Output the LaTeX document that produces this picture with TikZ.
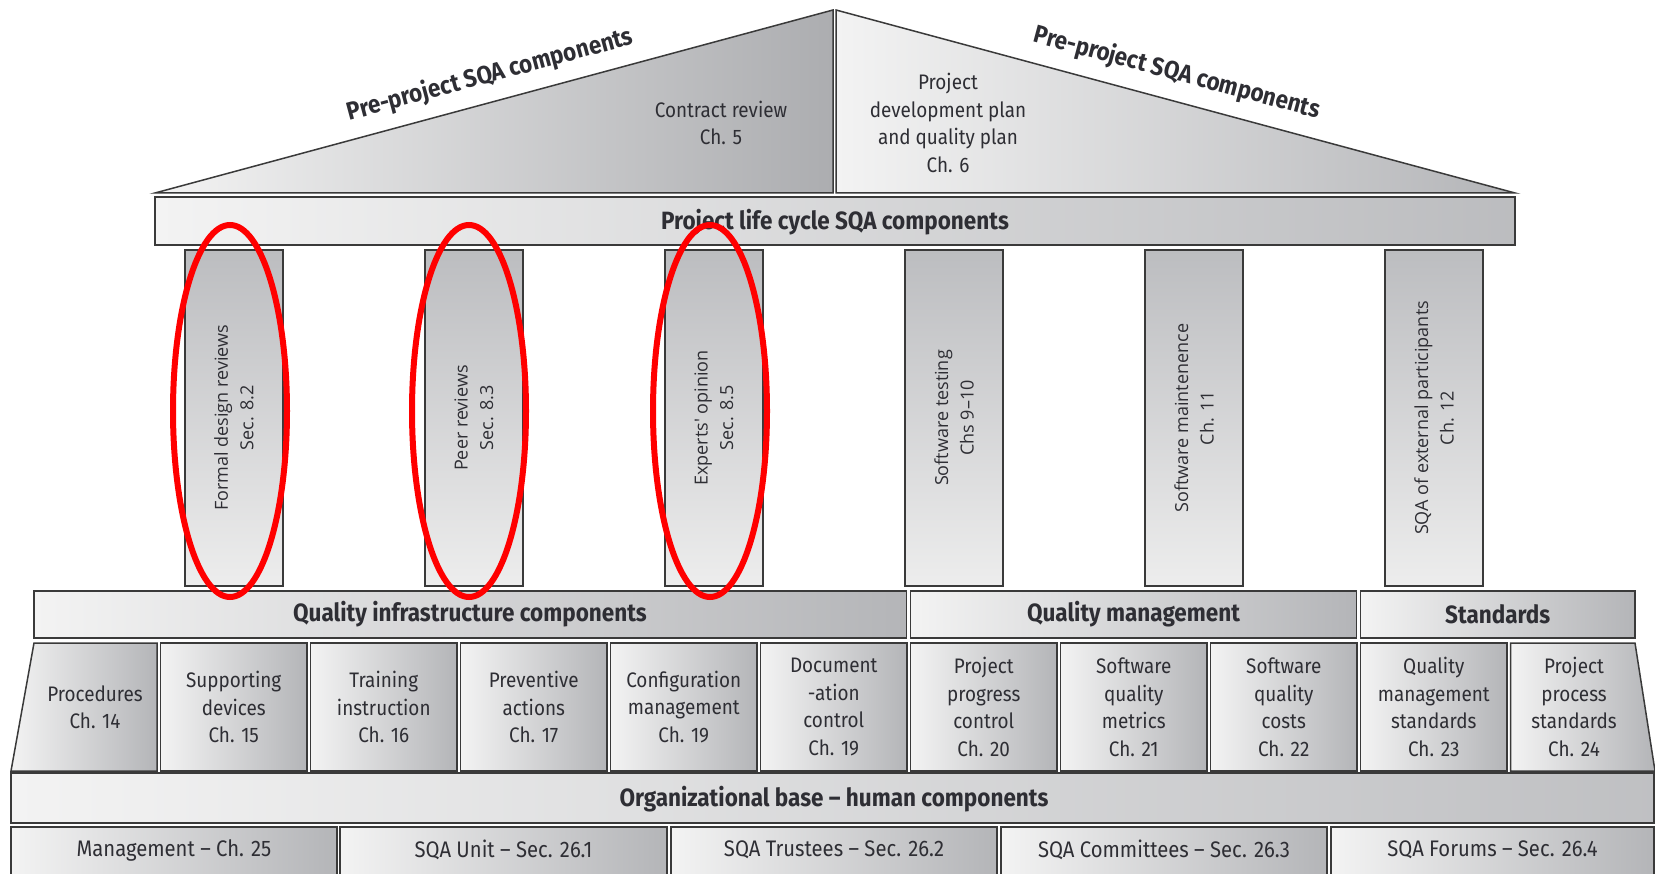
\documentclass[tikz,border=0pt]{standalone}
\usepackage{fontspec}
\setmainfont{Fira Sans}[FakeStretch=0.9]
\newfontfamily\pillarfont{Open Sans}
\definecolor{ink}{HTML}{2E2E34}
\definecolor{edge}{HTML}{3A3A3A}
\definecolor{lite}{HTML}{F3F3F3}
\definecolor{dark}{HTML}{B4B5B8}
\definecolor{roofdark}{HTML}{ACADB0}
\definecolor{coltop}{HTML}{BCBDC0}
\definecolor{colbot}{HTML}{EDEDED}
\begin{document}
\begin{tikzpicture}[x=1pt,y=-1pt,
  part/.style={draw=edge,line width=1.5pt,line join=miter,left color=lite,right color=dark},
  colbox/.style={draw=edge,line width=1.2pt,top color=coltop,bottom color=colbot},
  txt/.style={text=ink,align=center,font=\fontsize{21}{27.5}\selectfont,inner sep=0pt},
  basetxt/.style={text=ink,align=center,font=\fontsize{22.5}{27.5}\selectfont,inner sep=0pt},
  head/.style={text=ink,align=center,font=\bfseries\fontsize{25}{29}\selectfont,inner sep=0pt},
  rooftxt/.style={text=ink,font=\bfseries\fontsize{25}{29}\selectfont,inner sep=0pt},
  ptxt/.style={text=ink,align=center,font=\pillarfont\fontsize{18}{25.5}\selectfont,rotate=90,inner sep=0pt},
  redring/.style={draw=red,line width=6pt}]
\clip (0,0) rectangle (1655,874);
\useasboundingbox (0,0) rectangle (1655,874);
\fill[white] (0,0) rectangle (1655,874);

% roof
\path[part,right color=roofdark] (155,193) -- (833,10) -- (833,193) -- cycle;
\path[part] (836,10) -- (1515,193) -- (836,193) -- cycle;
\node[rooftxt,rotate=15.05] (roofL) at (490,75) {Pre-project SQA components};
\node[rooftxt,rotate=-15.0] (roofR) at (1177,73) {Pre-project SQA components};
\node[txt] (contract) at (721,123) {Contract review\\Ch. 5};
\node[txt] (devplan) at (948,123) {Project\\development plan\\and quality plan\\Ch. 6};

% beam
\path[part,right color=dark!90] (155,197) rectangle (1515,245);
\node[head] (beam) at (835,222) {Project life cycle SQA components};

% pillars
\foreach \i/\t in {0/{Formal design reviews\\Sec. 8.2},1/{Peer reviews\\Sec. 8.3},2/{Experts' opinion\\Sec. 8.5},3/{Software testing\\Chs 9–10},4/{Software maintenence\\Ch. 11},5/{SQA of external participants\\Ch. 12}}{
  \path[colbox] ({185+240*\i},250) rectangle ({283+240*\i},586);
  \node[ptxt] (pillar\i) at ({234+240*\i},418) {\t};
}

% headers
\path[part] (34,591) rectangle (906.5,638);
\node[head] (hinfra) at (470,614) {Quality infrastructure components};
\path[part] (910.5,591) rectangle (1356.5,638);
\node[head] (hmgmt) at (1133.5,614) {Quality management};
\path[part] (1360.5,591) rectangle (1635,638);
\node[head] (hstd) at (1497.75,614) {Standards};

% component boxes
\path[part] (34,643) -- (157,643) -- (157,771) -- (11,771) -- cycle;
\node[txt] (b1) at (95,707) {Procedures\\Ch. 14};
\foreach \i/\t in {2/{Supporting\\devices\\Ch. 15},3/{Training\\instruction\\Ch. 16},4/{Preventive\\actions\\Ch. 17},5/{Configuration\\management\\Ch. 19},6/{Document\\-ation\\control\\Ch. 19},7/{Project\\progress\\control\\Ch. 20},8/{Software\\quality\\metrics\\Ch. 21},9/{Software\\quality\\costs\\Ch. 22},10/{Quality\\management\\standards\\Ch. 23}}{
  \path[part] ({10.5+150*(\i-1)},643) rectangle ({157+150*(\i-1)},771);
  \node[txt] (b\i) at ({83.75+150*(\i-1)},707) {\t};
}
\path[part] (1510.5,643) -- (1635,643) -- (1655,771) -- (1510.5,771) -- cycle;
\node[txt] (b11) at (1574,707) {Project\\process\\standards\\Ch. 24};

% base
\path[part,right color=dark!85] (11,773) rectangle (1654,823);
\node[head] (base) at (834,799) {Organizational base – human components};

% bottom row
\foreach \a/\b/\t [count=\k] in {11/337/{Management – Ch. 25},340/667/{SQA Unit – Sec. 26.1},671/997/{SQA Trustees – Sec. 26.2},1001/1327/{SQA Committees – Sec. 26.3},1331/1654/{SQA Forums – Sec. 26.4}}{
  \path[part] (\a,827) rectangle (\b,884);
  \node[basetxt] (h\k) at ({(\a+\b)/2},850) {\t};
}

% red ellipses
\draw[redring] (230,411) ellipse [x radius=57, y radius=186];
\draw[redring] (469,411) ellipse [x radius=57, y radius=186];
\draw[redring] (710,411) ellipse [x radius=57, y radius=186];
\end{tikzpicture}
\end{document}
